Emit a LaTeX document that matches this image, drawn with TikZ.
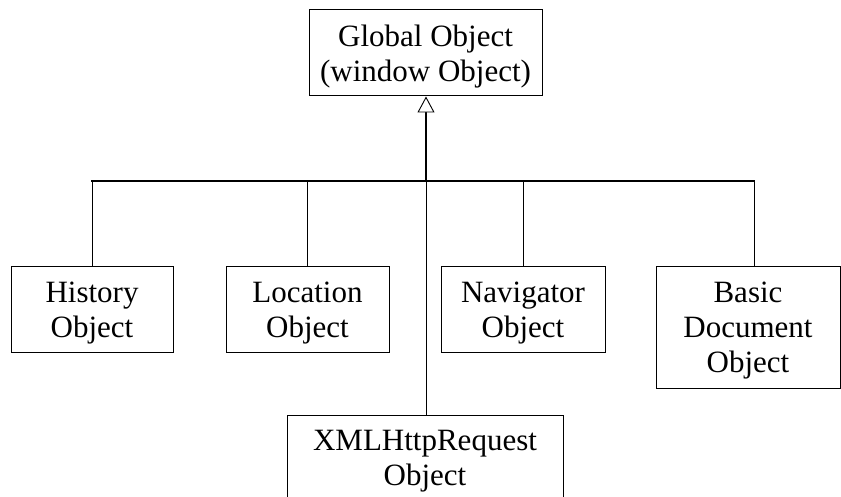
\documentclass[tikz,border=0pt]{standalone}
\usepackage{fontspec}
\setmainfont{Liberation Serif}
\usetikzlibrary{arrows.meta}
\begin{document}
\begin{tikzpicture}[x=1pt,y=-1pt,
  objbox/.style={draw,line width=1pt,inner sep=0pt,align=center,text depth=0pt,
    font=\fontsize{31}{35}\selectfont},
  thin/.style={line width=0.9pt},
  barline/.style={line width=1.5pt},
  main/.style={line width=1.7pt}]
\useasboundingbox (0,0) rectangle (841,497);
\clip (0,0) rectangle (841,497);
\node[objbox,minimum width=233pt,minimum height=86pt] (global) at (425.5,53) {Global Object\\(window Object)};
\node[objbox,minimum width=162pt,minimum height=85pt] (hist) at (92,309.5) {History\\Object};
\node[objbox,minimum width=163pt,minimum height=85pt] (loc) at (307.5,309.5) {Location\\Object};
\node[objbox,minimum width=164pt,minimum height=85pt] (nav) at (523,309.5) {Navigator\\Object};
\node[objbox,minimum width=184pt,minimum height=121pt] (basic) at (748,327.5) {Basic\\Document\\Object};
\node[objbox,minimum width=276pt,minimum height=86pt] (xml) at (425,458) {XMLHttpRequest\\Object};
\coordinate (junction) at (426,181);
\coordinate (bstem) at ([xshift=6pt]basic.north);
\draw[barline,line cap=rect] (hist.north |- junction) -- (bstem |- junction);
\draw[thin] (hist.north) -- (hist.north |- junction);
\draw[thin] (loc.north) -- (loc.north |- junction);
\draw[thin] (nav.north) -- (nav.north |- junction);
\draw[thin] (bstem) -- (bstem |- junction);
\draw[main,-{Triangle[open,length=16pt,width=17pt,line width=0.9pt,fill=white]}] (junction) -- (junction |- global.south);
\draw[thin] (junction) -- (junction |- xml.north);
\end{tikzpicture}
\end{document}
